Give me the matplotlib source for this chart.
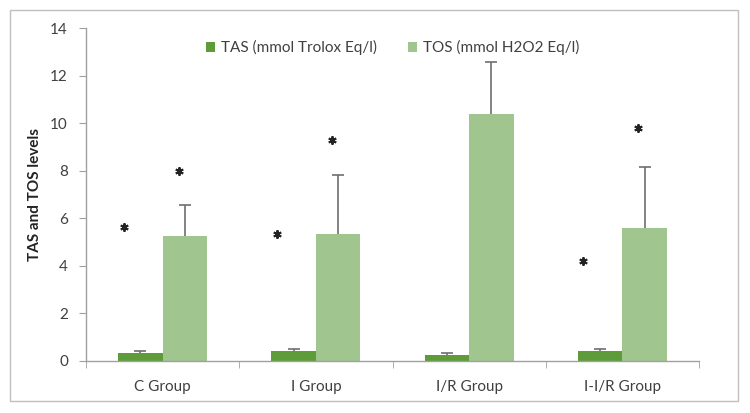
import matplotlib
matplotlib.use("Agg")
import matplotlib.pyplot as plt
from matplotlib.patches import Rectangle
import numpy as np

plt.rcParams['font.family'] = ['Lato', 'DejaVu Sans']

groups = ["C Group", "I Group", "I/R Group", "I-I/R Group"]
tas = [0.35, 0.40, 0.25, 0.40]
tas_err = [0.05, 0.10, 0.08, 0.10]
tos = [5.25, 5.35, 10.40, 5.60]
tos_err = [1.30, 2.45, 2.15, 2.55]
# asterisk heights (nan = no asterisk)
tas_star = [5.65, 5.35, np.nan, 4.20]
tos_star = [8.0, 9.3, np.nan, 9.8]

tas_color = "#5E9C3A"
tos_color = "#A0C58E"
err_color = "#6E6E6E"

fig = plt.figure(figsize=(7.5, 4.13), dpi=100)
ax = fig.add_axes([86/750, 1-361/413, (699-86)/750, (361-28)/413])

x = np.arange(len(groups))
w = 0.29
ax.bar(x - w/2, tas, w, color=tas_color, label="TAS (mmol Trolox Eq/l)", zorder=2)
ax.bar(x + w/2, tos, w, color=tos_color, label="TOS (mmol H2O2 Eq/l)", zorder=2)

for xs, vals, errs in [(x - w/2, tas, tas_err), (x + w/2, tos, tos_err)]:
    vals = np.array(vals); errs = np.array(errs)
    ax.vlines(xs, vals, vals + errs, color=err_color, linewidth=1.2, zorder=3)
    ax.plot(xs, vals + errs, linestyle='none', marker='_', markersize=8,
            markeredgewidth=1.2, color=err_color, zorder=3)

ax.plot(x - 0.255, tas_star, linestyle='none', marker=(6, 2, 0), markersize=6,
        markeredgewidth=1.4, color="#222222", zorder=4)
ax.plot(x + 0.105, tos_star, linestyle='none', marker=(6, 2, 0), markersize=6,
        markeredgewidth=1.4, color="#222222", zorder=4)

ax.set_xlim(-0.5, 3.5)
ax.set_ylim(0, 14)
ax.set_yticks(np.arange(0, 15, 2))
ax.set_xticks(x)
ax.set_xticklabels(groups, fontsize=11, color="#404040")
ax.set_xticks(np.arange(-0.5, 4.0, 1.0), minor=True)
ax.tick_params(axis='x', which='major', length=0, pad=14)
ax.tick_params(axis='x', which='minor', length=5, color="#A0A0A0", direction='out')
ax.tick_params(axis='y', length=5, color="#A0A0A0", direction='out', labelsize=11,
               labelcolor="#404040", pad=8)
for s in ['top', 'right']:
    ax.spines[s].set_visible(False)
for s in ['left', 'bottom']:
    ax.spines[s].set_color("#A0A0A0")
    ax.spines[s].set_linewidth(1.0)

ax.set_ylabel("TAS and TOS levels", fontsize=11, fontweight='bold', color="#222222", labelpad=6)

leg = ax.legend(loc='upper center', bbox_to_anchor=(0.5, 1.005), ncol=2, frameon=False,
                fontsize=11, handlelength=0.6, handleheight=0.6, handletextpad=0.4,
                columnspacing=2.0)
for t in leg.get_texts():
    t.set_color("#404040")

fig.patches.append(Rectangle((10/750, 1-401/413), (738-10)/750, (401-10)/413,
                             transform=fig.transFigure, fill=False,
                             edgecolor="#BFBFBF", linewidth=1.0))

fig.savefig("out.png", dpi=100)
